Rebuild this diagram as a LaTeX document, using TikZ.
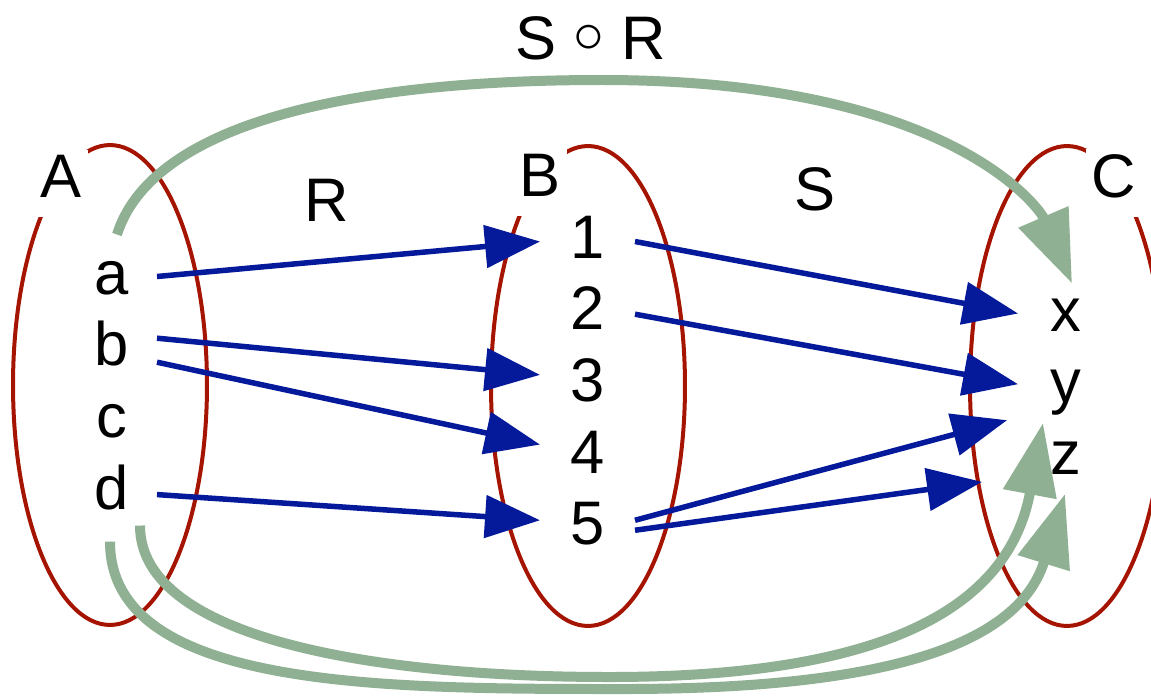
\documentclass[tikz,border=0pt]{standalone}
\usepackage{fix-cm}
\usepackage{fontspec}
\setmainfont{Liberation Sans}
\usepackage{tikz}
\usetikzlibrary{
	shapes.geometric,
	arrows.meta,
	positioning,
	calc
}
\definecolor{setred}{RGB}{165,20,0}
\definecolor{relblue}{RGB}{5,25,155}
\definecolor{compgreen}{RGB}{143,176,146}

\begin{document}
\begin{tikzpicture}[
	x=0.02cm, y=-0.02cm,
	font=\fontsize{35}{42}\selectfont,
	setoval/.style={
		ellipse, draw=setred, line width=0.08cm,
		minimum width=3.88cm, minimum height=9.6cm, inner sep=0
	},
	setlabel/.style={
		fill=white, inner xsep=0.12cm, inner ysep=0.1cm,
		text depth=0.3cm, anchor=base
	},
	relname/.style={
		inner sep=0, anchor=base
	},
	elem/.style={
		inner sep=0, text height=0.9cm, text depth=0.2cm
	},
	rel/.style={-{Triangle[length=1.1cm, width=0.84cm]}, line width=0.11cm, relblue},
	comp/.style={-{Triangle[length=1.45cm, width=1.04cm]}, line width=0.2cm, compgreen}
	]
	
	\useasboundingbox (0,0) rectangle (1151,696);
	\clip (0,0) rectangle (1151,696);
	
	% the three sets
	\node[setoval] (setA) at (110,385) {};
	\node[setoval] (setB) at (588,386) {};
	\node[setoval] (setC) at (1067,386) {};
	
	% elements of A
	\node[elem, anchor=base] (a) at (112,294) {a};
	\node[elem, below=0.32cm of a] (b) {b};
	\node[elem, below=0.32cm of b] (c) {c};
	\node[elem, below=0.32cm of c] (d) {d};
	
	% elements of B
	\node[elem, anchor=base] (1) at (588,258) {1};
	\node[elem, below=0.32cm of 1] (2) {2};
	\node[elem, below=0.32cm of 2] (3) {3};
	\node[elem, below=0.32cm of 3] (4) {4};
	\node[elem, below=0.32cm of 4] (5) {5};
	
	% elements of C
	\node[elem, anchor=base] (x) at (1066,331) {x};
	\node[elem, below=0.32cm of x] (y) {y};
	\node[elem, below=0.32cm of y] (z) {z};
	
	% relation R
	\draw[rel] ($(a)+(45,0)$) -- ($(1)+(-48,1)$);
	\draw[rel] ($(b)+(45,-10)$) -- ($(3)+(-48,-9)$);
	\draw[rel] ($(b)+(45,14)$) -- ($(4)+(-48,-11)$);
	\draw[rel] ($(d)+(45,3)$) -- ($(5)+(-48,-7)$);
	
	% relation S
	\draw[rel] ($(1)+(47,1)$) -- ($(x)+(-48,0)$);
	\draw[rel] ($(2)+(47,2)$) -- ($(y)+(-48,-1)$);
	\draw[rel] ($(5)+(47,-7)$) -- ($(y)+(-59,35)$);
	\draw[rel] ($(5)+(47,3)$) -- ($(z)+(-84,25)$);
	
	% composition S o R
	\draw[comp] ($(a)+(5,-42)$) .. controls (150,130) and (330,80) .. (602,80)
		.. controls (950,80) and (1040,209) .. ($(x)+(6,-30)$);
	\draw[comp] ($(d)+(28,34)$) .. controls (140,640) and (380,677) .. (609,677)
		.. controls (900,677) and (1010,600) .. ($(z)+(-23,-34)$);
	\draw[comp] ($(d)+(-2,50)$) .. controls (110,689) and (380,689) .. (624,689)
		.. controls (900,689) and (1020,640) .. ($(z)+(-1,37)$);
	
	% set names
	\node[setlabel] (labA) at (61,197) {A};
	\node[setlabel] (labB) at (540,196) {B};
	\node[setlabel] (labC) at (1114,197) {C};
	
	% relation names
	\node[relname] (labR) at (327,221) {R};
	\node[relname] (labS) at (815,210) {S};
	\node[relname] (labSR) at (591,60) {S \raisebox{0.16cm}{$\circ$} R};
\end{tikzpicture}
\end{document}
